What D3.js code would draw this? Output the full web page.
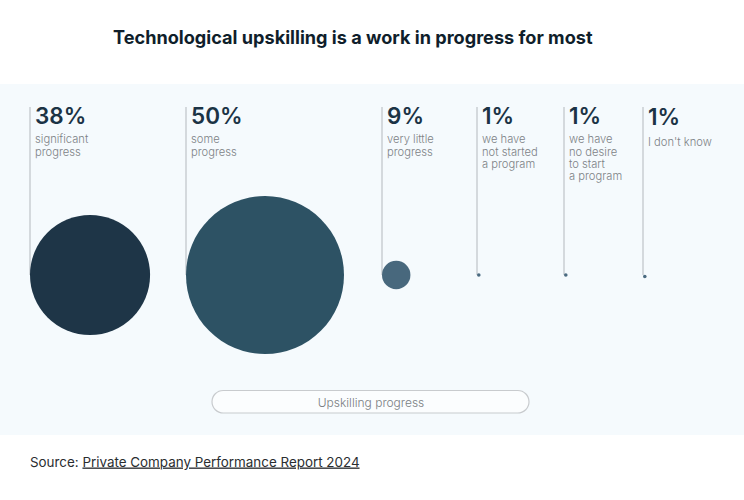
<!DOCTYPE html>
<html><head><meta charset="utf-8">
<script src="https://cdn.jsdelivr.net/npm/d3@7"></script>
<style>body{margin:0;background:#fff}svg{display:block}</style>
</head><body>
<svg id="c" width="744" height="500"></svg>
<script>
const categories = ["significant progress","some progress","very little progress","we have not started a program","we have no desire to start a program","I don't know"];
const labelLines = [["significant","progress"],["some","progress"],["very little","progress"],["we have","not started","a program"],["we have","no desire","to start","a program"],["I don't know"]];
const values = [38, 50, 9, 1, 1, 1];
const valueLabels = ["38%","50%","9%","1%","1%","1%"];
const colors = ["#1e3547","#2d5264","#48687d","#4a6a80","#4a6a80","#4a6a80"];
const title = "Technological upskilling is a work in progress for most";
const axisLabel = "Upskilling progress";
const sourceLead = "Source: ";
const sourceLink = "Private Company Performance Report 2024";

const svg = d3.select("#c");
const FONT = "Inter, 'Noto Sans', sans-serif";

// layout
const colX = [30, 186, 382, 477, 564, 643];
const x = d3.scaleOrdinal().domain(categories).range(colX);
const r = d3.scaleLinear().domain([0, 50]).range([0, 79]);
const cy = 275, lineTop = 107;

svg.append("rect").attr("x",0).attr("y",84).attr("width",744).attr("height",351).attr("fill","#f5fafd");

function fit(sel, target){
  const w = sel.node().getComputedTextLength();
  const fs = parseFloat(sel.attr("font-size"));
  sel.attr("font-size", fs*target/w);
}

const t = svg.append("text").attr("x",113).attr("y",43.5).attr("font-family",FONT)
  .attr("font-weight",700).attr("font-size",19).attr("fill","#0f1e2b").text(title);
fit(t, 480);

const g = svg.append("g");
const cols = g.selectAll("g.col").data(categories).join("g").attr("class","col");

cols.append("line")
  .attr("x1", d=>x(d)).attr("x2", d=>x(d))
  .attr("y1", lineTop).attr("y2", cy)
  .attr("stroke","#c9ced2").attr("stroke-width",1.5);

cols.append("circle")
  .attr("cx", (d,i)=>x(d)+Math.max(r(values[i]),1.8))
  .attr("cy", (d,i)=> i===5 ? cy+1.5 : cy)
  .attr("r", (d,i)=>Math.max(r(values[i]),1.8))
  .attr("fill",(d,i)=>colors[i]);

cols.append("text")
  .attr("x", d=>x(d)+5).attr("y", (d,i)=> i===5 ? 125 : 124)
  .attr("font-family",FONT).attr("font-weight",600).attr("font-size",22.5)
  .attr("fill","#1b3345").text((d,i)=>valueLabels[i]);

cols.each(function(d,i){
  const base = i===5 ? 145.5 : 143.3;
  d3.select(this).selectAll("text.lbl").data(labelLines[i]).join("text")
    .attr("class","lbl")
    .attr("x", x(d)+5).attr("y",(l,j)=>base + j*12.2)
    .attr("font-family",FONT).attr("font-weight",300).attr("font-size",11.2)
    .attr("fill","#7d8286").text(l=>l);
});

// axis pill
svg.append("rect").attr("x",212).attr("y",390.5).attr("width",317).attr("height",22.5)
  .attr("rx",11.25).attr("fill","#fbfdfe").attr("stroke","#c8cbce").attr("stroke-width",1.2);
svg.append("text").attr("x",371).attr("y",406.5).attr("text-anchor","middle")
  .attr("font-family",FONT).attr("font-weight",300).attr("font-size",12).attr("fill","#7a7f83").text(axisLabel);

// source
const s = svg.append("text").attr("x",30).attr("y",466.5).attr("font-family",FONT)
  .attr("font-size",14).attr("fill","#2a2d30");
s.append("tspan").text(sourceLead);
s.append("tspan").attr("text-decoration","underline").text(sourceLink);
fit(s, 330);
</script>
</body></html>
